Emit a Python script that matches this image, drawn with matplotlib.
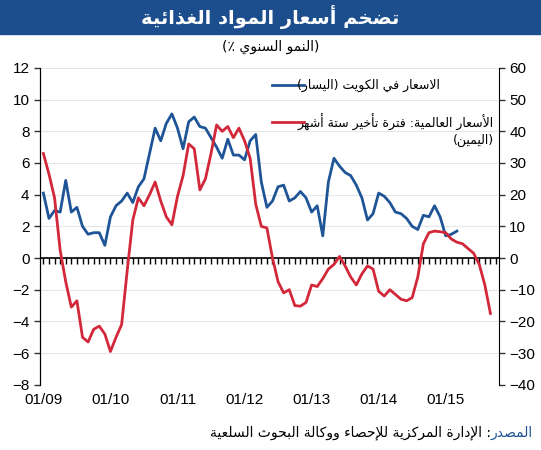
import matplotlib
matplotlib.use("Agg")
import matplotlib.pyplot as plt
from matplotlib.lines import Line2D

plt.rcParams["font.family"] = ["Liberation Sans", "DejaVu Sans"]

# monthly data, starting 01/2009
kuwait = [4.1, 2.5, 3.0, 2.9, 4.9, 2.9, 3.2, 2.0, 1.5, 1.6, 1.6, 0.8,
          2.6, 3.3, 3.6, 4.1, 3.5, 4.5, 5.0, 6.6, 8.2, 7.4, 8.5, 9.1,
          8.2, 6.9, 8.6, 8.9, 8.3, 8.2, 7.6, 7.0, 6.3, 7.5, 6.5, 6.5,
          6.2, 7.4, 7.8, 4.8, 3.2, 3.6, 4.5, 4.6, 3.6, 3.8, 4.2, 3.8,
          2.9, 3.3, 1.4, 4.8, 6.3, 5.8, 5.4, 5.2, 4.6, 3.8, 2.4, 2.8,
          4.1, 3.9, 3.5, 2.9, 2.8, 2.5, 2.0, 1.8, 2.7, 2.6, 3.3, 2.6,
          1.4, 1.5, 1.7]
world = [33, 26.5, 19, 2.5, -7.5, -15.5, -13.5, -25, -26.5, -22.5, -21.5, -24,
         -29.5, -25, -21, -4, 12, 19, 16.5, 20, 24, 18, 13, 10.5,
         19.5, 26, 36, 34.5, 21.5, 25, 33, 42, 40, 41.5, 38, 41,
         37, 31.5, 17, 10, 9.5, 0, -7.5, -11, -10, -15, -15.2, -14,
         -8.5, -9, -6.5, -3.5, -2, 0.5, -2.5, -6, -8.5, -5, -2.5, -3.5,
         -10.5, -12, -10, -11.5, -13, -13.5, -12.5, -6, 4.5, 8, 8.5, 8.3,
         8, 6, 5, 4.5, 3, 1.5, -2, -8.5, -17.5]
year_labels = ["01/09", "01/10", "01/11", "01/12", "01/13", "01/14", "01/15"]

BLUE = "#1f5596"
RED = "#d2283a"
BAR = "#1c4d8c"

# minimal arabic shaping (presentation forms B) + visual reordering
DUAL = {"ئ": 0xFE89, "ب": 0xFE8F, "ت": 0xFE95, "ث": 0xFE99, "ج": 0xFE9D,
        "ح": 0xFEA1, "خ": 0xFEA5, "س": 0xFEB1, "ش": 0xFEB5, "ص": 0xFEB9,
        "ض": 0xFEBD, "ط": 0xFEC1, "ظ": 0xFEC5, "ع": 0xFEC9, "غ": 0xFECD,
        "ف": 0xFED1, "ق": 0xFED5, "ك": 0xFED9, "ل": 0xFEDD, "م": 0xFEE1,
        "ن": 0xFEE5, "ه": 0xFEE9, "ي": 0xFEF1}
RIGHT = {"آ": 0xFE81, "أ": 0xFE83, "ؤ": 0xFE85, "إ": 0xFE87, "ا": 0xFE8D,
         "ة": 0xFE93, "د": 0xFEA9, "ذ": 0xFEAB, "ر": 0xFEAD, "ز": 0xFEAF,
         "و": 0xFEED, "ى": 0xFEEF}
LAMALEF = {"آ": 0xFEF5, "أ": 0xFEF7, "إ": 0xFEF9, "ا": 0xFEFB}


def ar(text):
    out = []
    i = 0
    n = len(text)
    while i < n:
        c = text[i]
        prev = text[i - 1] if i > 0 else ""
        nxt = text[i + 1] if i + 1 < n else ""
        pj = prev in DUAL
        if c == "ل" and nxt in LAMALEF:
            out.append(chr(LAMALEF[nxt] + (1 if pj else 0)))
            i += 2
            continue
        if c in DUAL:
            nj = nxt in DUAL or nxt in RIGHT
            off = 3 if (pj and nj) else 1 if pj else 2 if nj else 0
            out.append(chr(DUAL[c] + off))
        elif c in RIGHT:
            out.append(chr(RIGHT[c] + (1 if pj else 0)))
        elif c == "ء":
            out.append(chr(0xFE80))
        else:
            out.append(c)
        i += 1
    s = "".join(reversed(out))
    return s.translate(str.maketrans("()", ")("))


fig = plt.figure(figsize=(5.41, 4.5), dpi=100)
ax = fig.add_axes([0.074, 0.145, 0.848, 0.704])
ax2 = ax.twinx()

months = list(range(len(kuwait)))
ax.plot(months, kuwait, color=BLUE, lw=2.0, zorder=3)
ax2.plot(list(range(len(world))), world, color=RED, lw=2.0, zorder=3)

ax.set_xlim(-0.6, 81.5)
ax.set_ylim(-8, 12)
ax2.set_ylim(-40, 60)
ax.set_yticks(range(-8, 13, 2))
ax2.set_yticks(range(-40, 61, 10))
ax.set_xticks(range(0, 73, 12))
ax.set_xticklabels(year_labels)
ax.yaxis.grid(True, color="#e6e6e6", lw=0.8)
ax.set_axisbelow(True)

for a in (ax, ax2):
    a.spines["top"].set_visible(False)
    a.spines["bottom"].set_visible(False)
    a.tick_params(labelsize=11, length=4, width=1, color="#333333")
ax.tick_params(axis="x", length=0, pad=6)
ax.spines["right"].set_visible(False)

# zero line with monthly ticks
zx = list(range(0, 82))
ax.axhline(0, color="black", lw=1.2, zorder=2)
ax.plot(zx, [0] * len(zx), ls="none", marker=3, ms=4, mew=1, color="black", zorder=2)

# title bar
fig.patches.append(plt.Rectangle((0, 1 - 34 / 450), 1, 34 / 450,
                                 transform=fig.transFigure, color=BAR, zorder=0))
fig.text(0.5, 1 - 17 / 450, ar("تضخم أسعار المواد الغذائية"), ha="center", va="center",
         color="white", fontsize=14, fontweight="bold", family="DejaVu Sans")
fig.text(0.5, 1 - 47 / 450, ar("(النمو السنوي ٪)"), ha="center", va="center",
         fontsize=10, family="DejaVu Sans")

# legend
fig.add_artist(Line2D([272 / 541, 304 / 541], [1 - 85 / 450] * 2, color=BLUE, lw=2))
fig.text(440 / 541, 1 - 85 / 450, ar("الاسعار في الكويت (اليسار)"), ha="right",
         va="center", fontsize=9, family="DejaVu Sans")
fig.add_artist(Line2D([272 / 541, 304 / 541], [1 - 122 / 450] * 2, color=RED, lw=2))
fig.text(494 / 541, 1 - 122 / 450, ar("الأسعار العالمية: فترة تأخير ستة أشهر"), ha="right",
         va="center", fontsize=9, family="DejaVu Sans")
fig.text(494 / 541, 1 - 140 / 450, ar("(اليمين)"), ha="right",
         va="center", fontsize=9, family="DejaVu Sans")

# source
fig.canvas.draw()
src = fig.text(0.985, 1 - 433 / 450, ar("المصدر"), ha="right", va="center",
               fontsize=10, color=BLUE, family="DejaVu Sans")
bb = src.get_window_extent(fig.canvas.get_renderer())
fig.text(bb.x0 / fig.bbox.width, 1 - 433 / 450,
         ar(": الإدارة المركزية للإحصاء ووكالة البحوث السلعية"), ha="right",
         va="center", fontsize=10, family="DejaVu Sans")

fig.savefig("out.png", dpi=100)
